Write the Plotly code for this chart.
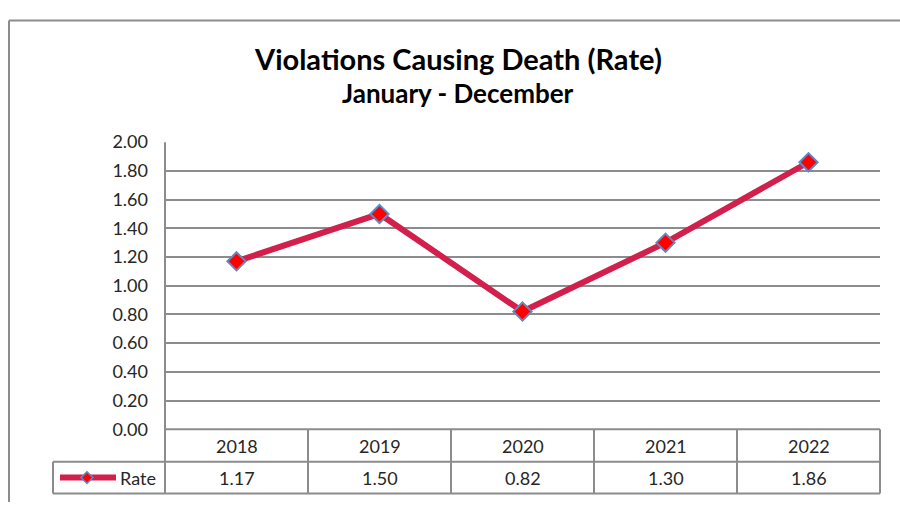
import plotly.graph_objects as go

years = ["2018", "2019", "2020", "2021", "2022"]
rate = [1.17, 1.50, 0.82, 1.30, 1.86]
series_name = "Rate"
y_ticks = [0.0, 0.2, 0.4, 0.6, 0.8, 1.0, 1.2, 1.4, 1.6, 1.8, 2.0]
title_text = "Violations Causing Death (Rate)"
subtitle_text = "January - December"

W, H = 900, 512
FONT = "Lato"
GRID = "#8c8c8c"
TXT = "#262626"
LINE_C = "#D31F4B"
MK_FILL = "#FF0000"
MK_EDGE = "#5B8AC6"

# plot area in pixels
PX0, PX1 = 165, 880
PY0, PY1 = 136, 436
ROW1, ROW2 = 470, 503
LEG_X0 = 53

def px(x):
    return x / W

def py(y):
    return 1 - y / H

fig = go.Figure()
fig.add_trace(go.Scatter(
    x=list(range(len(years))), y=rate, mode="lines+markers", name=series_name,
    line=dict(color=LINE_C, width=6),
    marker=dict(symbol="diamond", size=14, color=MK_FILL,
                line=dict(color=MK_EDGE, width=2)),
    showlegend=False, hoverinfo="skip",
))

shapes = []
def hline(x0, x1, y, w=2):
    shapes.append(dict(type="line", xref="paper", yref="paper",
                       x0=px(x0), x1=px(x1), y0=py(y), y1=py(y),
                       line=dict(color=GRID, width=w)))
def vline(x, y0, y1, w=2):
    shapes.append(dict(type="line", xref="paper", yref="paper",
                       x0=px(x), x1=px(x), y0=py(y0), y1=py(y1),
                       line=dict(color=GRID, width=w)))

# outer chart frame (top & left visible)
hline(9, 900, 9)
vline(9, 9, 512)

# data table lines
n = len(years)
cw = (PX1 - PX0) / n
hline(PX0, PX1, PY1)
hline(LEG_X0, PX1, ROW1)
hline(LEG_X0, PX1, ROW2)
vline(PX0, PY0, ROW2)
vline(LEG_X0, ROW1, ROW2)
for i in range(1, n + 1):
    vline(PX0 + i * cw, PY1, ROW2)

# legend key in the table
ky = (ROW1 + ROW2) / 2
shapes.append(dict(type="line", xref="paper", yref="paper",
                   x0=px(60), x1=px(116), y0=py(ky), y1=py(ky),
                   line=dict(color=LINE_C, width=6)))
cx, d = 87, 6
shapes.append(dict(type="path", xref="paper", yref="paper",
                   path=f"M {px(cx)} {py(ky-d)} L {px(cx+d)} {py(ky)} L {px(cx)} {py(ky+d)} L {px(cx-d)} {py(ky)} Z",
                   fillcolor=MK_FILL, line=dict(color=MK_EDGE, width=1.5)))

annotations = []
annotations.append(dict(text=f"<b>{title_text}</b>", x=px(458), y=py(49),
                        xref="paper", yref="paper", showarrow=False,
                        font=dict(family=FONT, size=29, color="#000000"),
                        xanchor="center", yanchor="middle"))
annotations.append(dict(text=f"<b>{subtitle_text}</b>", x=px(458), y=py(85),
                        xref="paper", yref="paper", showarrow=False,
                        font=dict(family=FONT, size=26, color="#000000"),
                        xanchor="center", yanchor="middle"))
for i, (yr, v) in enumerate(zip(years, rate)):
    cxp = PX0 + (i + 0.5) * cw
    annotations.append(dict(text=yr, x=px(cxp), y=py((PY1 + ROW1) / 2),
                            xref="paper", yref="paper", showarrow=False,
                            font=dict(family=FONT, size=18, color=TXT),
                            xanchor="center", yanchor="middle"))
    annotations.append(dict(text=f"{v:.2f}", x=px(cxp), y=py(ky),
                            xref="paper", yref="paper", showarrow=False,
                            font=dict(family=FONT, size=18, color=TXT),
                            xanchor="center", yanchor="middle"))
annotations.append(dict(text=series_name, x=px(118), y=py(ky),
                        xref="paper", yref="paper", showarrow=False,
                        font=dict(family=FONT, size=18, color=TXT),
                        xanchor="left", yanchor="middle"))

fig.update_layout(
    width=W, height=H, margin=dict(l=0, r=0, t=0, b=0),
    paper_bgcolor="white", plot_bgcolor="white",
    shapes=shapes, annotations=annotations,
    xaxis=dict(domain=[px(PX0), px(PX1)], range=[-0.5, n - 0.5],
               showgrid=False, showticklabels=False, ticks="",
               zeroline=False, showline=False, fixedrange=True),
    yaxis=dict(domain=[py(PY1), py(PY0)], range=[0, 2],
               tickvals=y_ticks, tickformat=".2f",
               showgrid=True, gridcolor=GRID, gridwidth=2,
               zeroline=False, showline=False, ticks="",
               ticklabelstandoff=16,
               tickfont=dict(family=FONT, size=18, color=TXT),
               fixedrange=True),
)
post = (
    "var gd=document.getElementById('{plot_id}');"
    "gd.style.position='fixed';gd.style.left='0px';gd.style.top='0px';"
    "document.body.style.margin='0';document.documentElement.style.overflow='hidden';"
)
fig.write_html("out.html", config={"displayModeBar": False}, post_script=post)
